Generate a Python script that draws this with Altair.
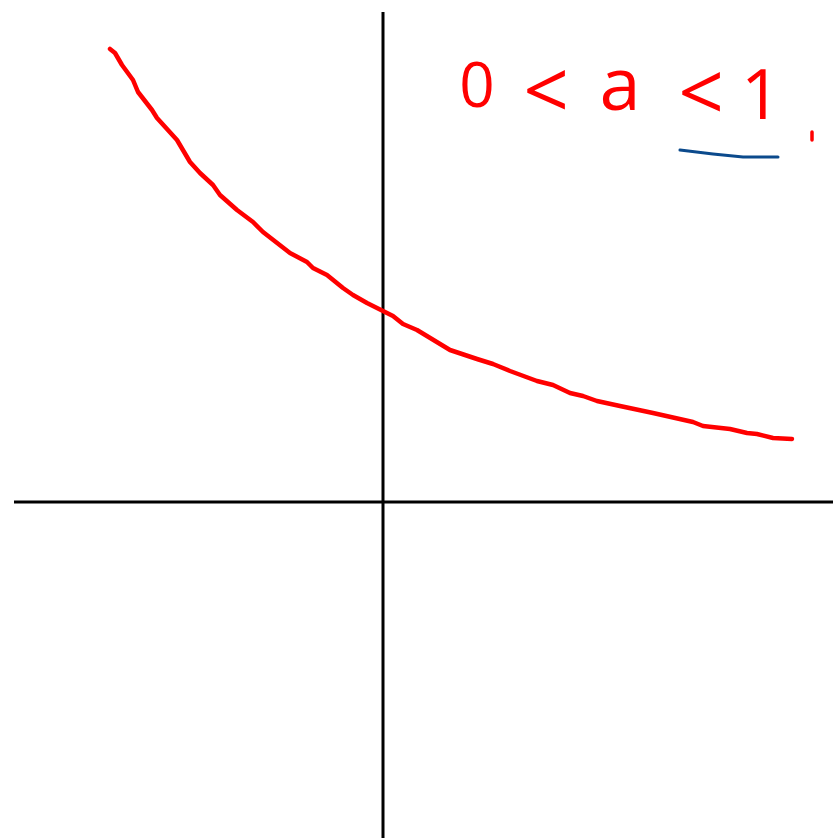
import altair as alt
import pandas as pd

# Decaying exponential y = a^x with 0 < a < 1, sketched on plain axes
curve_x = [-2.73, -2.68, -2.61, -2.50, -2.45, -2.31, -2.26, -2.06, -1.93, -1.83,
           -1.70, -1.63, -1.46, -1.30, -1.20, -0.93, -0.76, -0.70, -0.56, -0.40,
           -0.30, -0.16, 0.00, 0.10, 0.20, 0.34, 0.67, 0.94, 1.10, 1.27,
           1.54, 1.70, 1.87, 2.00, 2.14, 2.37, 2.70, 3.10, 3.20, 3.47,
           3.64, 3.74, 3.90, 4.09]
curve_y = [4.53, 4.49, 4.37, 4.22, 4.10, 3.92, 3.84, 3.62, 3.40, 3.29,
           3.17, 3.07, 2.92, 2.80, 2.70, 2.49, 2.40, 2.34, 2.27, 2.14,
           2.07, 1.99, 1.91, 1.86, 1.78, 1.72, 1.52, 1.43, 1.38, 1.31,
           1.21, 1.17, 1.09, 1.06, 1.01, 0.96, 0.89, 0.80, 0.76, 0.73,
           0.69, 0.68, 0.64, 0.63]

# Condition on the base, written glyph by glyph
label_glyphs = ["0", "<", "a", "<", "1"]
label_x = [0.94, 1.63, 2.37, 3.18, 3.78]
label_y = [4.14, 4.07, 4.14, 4.05, 4.04]
label_size = [62, 80, 74, 80, 70]

# Underline beneath "< 1"
underline_x = [2.97, 3.30, 3.60, 3.95]
underline_y = [3.52, 3.48, 3.45, 3.45]

# Extents of the coordinate axes
x_lo, x_hi = -3.83, 4.50
y_lo, y_hi = -3.36, 5.02
axis_x_start = -3.69
axis_y_top = 4.90

xs = alt.Scale(domain=[x_lo, x_hi], nice=False, zero=False)
ys = alt.Scale(domain=[y_lo, y_hi], nice=False, zero=False)

curve_df = pd.DataFrame({"x": curve_x, "y": curve_y, "i": range(len(curve_x))})
label_df = pd.DataFrame({"t": label_glyphs, "x": label_x, "y": label_y, "s": label_size})
under_df = pd.DataFrame({"x": underline_x, "y": underline_y, "i": range(len(underline_x))})
axes_df = pd.DataFrame({
    "x": [axis_x_start, 0.0], "x2": [x_hi, 0.0],
    "y": [0.0, axis_y_top], "y2": [0.0, y_lo],
})
dot_df = pd.DataFrame({"x": [4.29], "y": [3.70], "y2": [3.62]})

axes = alt.Chart(axes_df).mark_rule(color="black", strokeWidth=3).encode(
    x=alt.X("x:Q", scale=xs, axis=None),
    x2="x2:Q",
    y=alt.Y("y:Q", scale=ys, axis=None),
    y2="y2:Q",
)

curve = alt.Chart(curve_df).mark_line(
    color="#ff0000", strokeWidth=4.5, strokeCap="round", strokeJoin="round"
).encode(
    x=alt.X("x:Q", scale=xs, axis=None),
    y=alt.Y("y:Q", scale=ys, axis=None),
    order="i:Q",
)

labels = alt.Chart(label_df).mark_text(
    color="#ff0000", font="Open Sans", align="center", baseline="middle"
).encode(
    x=alt.X("x:Q", scale=xs, axis=None),
    y=alt.Y("y:Q", scale=ys, axis=None),
    text="t:N",
    size=alt.Size("s:Q", scale=None, legend=None),
)

underline = alt.Chart(under_df).mark_line(
    color="#0b4a8c", strokeWidth=3, strokeCap="round"
).encode(
    x=alt.X("x:Q", scale=xs, axis=None),
    y=alt.Y("y:Q", scale=ys, axis=None),
    order="i:Q",
)

dot = alt.Chart(dot_df).mark_rule(color="#ff0000", strokeWidth=3.5, strokeCap="round").encode(
    x=alt.X("x:Q", scale=xs, axis=None),
    y=alt.Y("y:Q", scale=ys, axis=None),
    y2="y2:Q",
)

chart = alt.layer(axes, curve, underline, dot, labels).properties(
    width=833, height=838, padding=0, autosize=alt.AutoSizeParams(type="none"),
    background="white",
).configure_view(stroke=None)

chart.save("out.html", embed_options={"renderer": "svg", "actions": False})
